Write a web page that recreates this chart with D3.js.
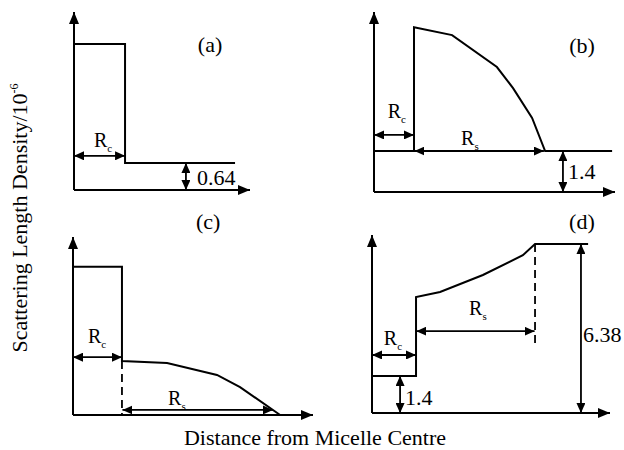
<!DOCTYPE html>
<html>
<head>
<meta charset="utf-8">
<script src="https://cdn.jsdelivr.net/npm/d3@7"></script>
<style>
  body { margin: 0; background: #fff; }
  text { font-family: "Liberation Serif", "Times New Roman", serif; fill: #000; }
</style>
</head>
<body>
<svg id="chart" width="624" height="450"></svg>
<script>
// profiles: [distance, scattering length density]
var panelLabels = ["(a)", "(b)", "(c)", "(d)"];
var profileA = [[0, 3.46], [29, 3.46], [29, 0.64], [91.5, 0.64]];
var profileB = [[0, 1.4], [16.6, 1.4], [16.6, 5.63], [32.4, 5.36], [51, 4.27], [57.7, 3.55], [65.6, 2.53], [71, 1.4], [98.8, 1.4]];
var profileC = [[0, 5.0], [20.4, 5.0], [20.4, 1.82], [39.2, 1.75], [60, 1.35], [69.6, 0.94], [86.3, 0]];
var profileD = [[0, 1.4], [18.5, 1.4], [18.5, 4.38], [28.6, 4.57], [46.6, 5.21], [63.4, 5.96], [68.5, 6.38], [90.8, 6.38]];

// dashed guides
var dashC = [[20.4, 1.82], [20.4, 0]];
var dashD = [[68.5, 6.38], [68.5, 2.49]];

// dimension arrows (double headed)
var arrowsA = [[[0, 0.81], [29, 0.81]], [[63.6, 0.64], [63.6, 0]]];
var arrowsB = [[[0, 1.95], [16.6, 1.95]], [[16.8, 1.4], [70.5, 1.4]], [[78.4, 1.4], [78.4, 0]]];
var arrowsC = [[[0, 1.95], [20.4, 1.95]], [[20.6, 0.17], [83.3, 0.17]]];
var arrowsD = [[[0, 2.19], [18.5, 2.19]], [[18.6, 3.09], [68.3, 3.09]], [[11.8, 1.4], [11.8, 0]], [[87.8, 6.38], [87.8, 0]]];

// value labels
var valuesA = ["0.64"];
var valuesB = ["1.4"];
var valuesD = ["1.4", "6.38"];

var yTitle = "Scattering Length Density/10";
var xTitle = "Distance from Micelle Centre";

var svg = d3.select("#chart");

// markers
var defs = svg.append("defs");
defs.append("marker")
    .attr("id", "axisHead")
    .attr("viewBox", "0 0 12 10")
    .attr("refX", 12).attr("refY", 5)
    .attr("markerWidth", 12).attr("markerHeight", 10)
    .attr("markerUnits", "userSpaceOnUse")
    .attr("orient", "auto")
    .append("path").attr("d", "M0,0L12,5L0,10Z").attr("fill", "#000");
defs.append("marker")
    .attr("id", "dimHead")
    .attr("viewBox", "0 0 10 9")
    .attr("refX", 10).attr("refY", 4.5)
    .attr("markerWidth", 10).attr("markerHeight", 9)
    .attr("markerUnits", "userSpaceOnUse")
    .attr("orient", "auto-start-reverse")
    .append("path").attr("d", "M0,0L10,4.5L0,9Z").attr("fill", "#000");

var line = d3.line();

function rLabel(g, x, y, sub) {
    var t = g.append("text")
        .attr("x", x).attr("y", y)
        .attr("text-anchor", "middle")
        .attr("font-size", 20);
    t.append("tspan").text("R");
    t.append("tspan").attr("font-size", 11).attr("dy", 5).text(sub);
}

function drawPanel(p) {
    var x = d3.scaleLinear().domain([0, 100]).range([p.x0, p.x1]);
    var y = d3.scaleLinear().domain([0, p.ymax]).range([p.yb, p.yt]);
    line.x(function(d) { return x(d[0]); }).y(function(d) { return y(d[1]); });
    var g = svg.append("g");

    // axes
    g.append("path").attr("d", line([[0, 0], [0, p.ymax]]))
        .attr("stroke", "#000").attr("stroke-width", 2).attr("fill", "none")
        .attr("marker-end", "url(#axisHead)");
    g.append("path").attr("d", line([[0, 0], [100, 0]]))
        .attr("stroke", "#000").attr("stroke-width", 2).attr("fill", "none")
        .attr("marker-end", "url(#axisHead)");

    // profile
    g.append("path").attr("d", line(p.profile))
        .attr("stroke", "#000").attr("stroke-width", 2).attr("fill", "none")
        .attr("stroke-linejoin", "miter");

    if (p.dash) {
        g.append("path").attr("d", line(p.dash))
            .attr("stroke", "#000").attr("stroke-width", 1.8).attr("fill", "none")
            .attr("stroke-dasharray", "8,5");
    }

    g.selectAll(".dim").data(p.arrows).enter().append("path")
        .attr("d", function(d) { return line(d); })
        .attr("stroke", "#000").attr("stroke-width", 1.8).attr("fill", "none")
        .attr("marker-start", "url(#dimHead)")
        .attr("marker-end", "url(#dimHead)");

    // texts
    g.append("text")
        .attr("x", x(p.title[0])).attr("y", y(p.title[1]))
        .attr("text-anchor", "middle").attr("font-size", 22)
        .text(p.label);

    p.rs.forEach(function(r) { rLabel(g, x(r[0]), y(r[1]), r[2]); });

    p.values.forEach(function(v, i) {
        g.append("text")
            .attr("x", x(p.valuePos[i][0])).attr("y", y(p.valuePos[i][1]))
            .attr("font-size", 22)
            .text(v);
    });
}

var panels = [
    { label: panelLabels[0], x0: 74, x1: 250, yb: 190, yt: 12, ymax: 4.22,
      profile: profileA, arrows: arrowsA, title: [77.3, 3.27],
      rs: [[16.5, 1.02, "c"]], values: valuesA, valuePos: [[69.9, 0.12]] },
    { label: panelLabels[1], x0: 374, x1: 615, yb: 192, yt: 12, ymax: 6.15,
      profile: profileB, arrows: arrowsB, title: [86.3, 4.74],
      rs: [[9.5, 2.53, "c"], [39.8, 1.6, "s"]], values: valuesB, valuePos: [[80.5, 0.44]] },
    { label: panelLabels[2], x0: 73, x1: 313, yb: 415, yt: 237, ymax: 6,
      profile: profileC, arrows: arrowsC, dash: dashC, title: [56.3, 6.27],
      rs: [[10, 2.43, "c"], [43.3, 0.34, "s"]], values: [], valuePos: [] },
    { label: panelLabels[3], x0: 372, x1: 610, yb: 413, yt: 235, ymax: 6.72,
      profile: profileD, arrows: arrowsD, dash: dashD, title: [88.2, 6.94],
      rs: [[8.8, 2.57, "c"], [44.5, 3.7, "s"]], values: valuesD, valuePos: [[13.9, 0.3], [88.7, 2.68]] }
];

panels.forEach(drawPanel);

// axis titles
var yt = svg.append("text")
    .attr("transform", "translate(27,218) rotate(-90)")
    .attr("text-anchor", "middle")
    .attr("font-size", 22);
yt.append("tspan").text(yTitle);
yt.append("tspan").attr("font-size", 12).attr("dy", -9).text("-6");

svg.append("text")
    .attr("x", 315).attr("y", 445)
    .attr("text-anchor", "middle")
    .attr("font-size", 22)
    .text(xTitle);
</script>
</body>
</html>
